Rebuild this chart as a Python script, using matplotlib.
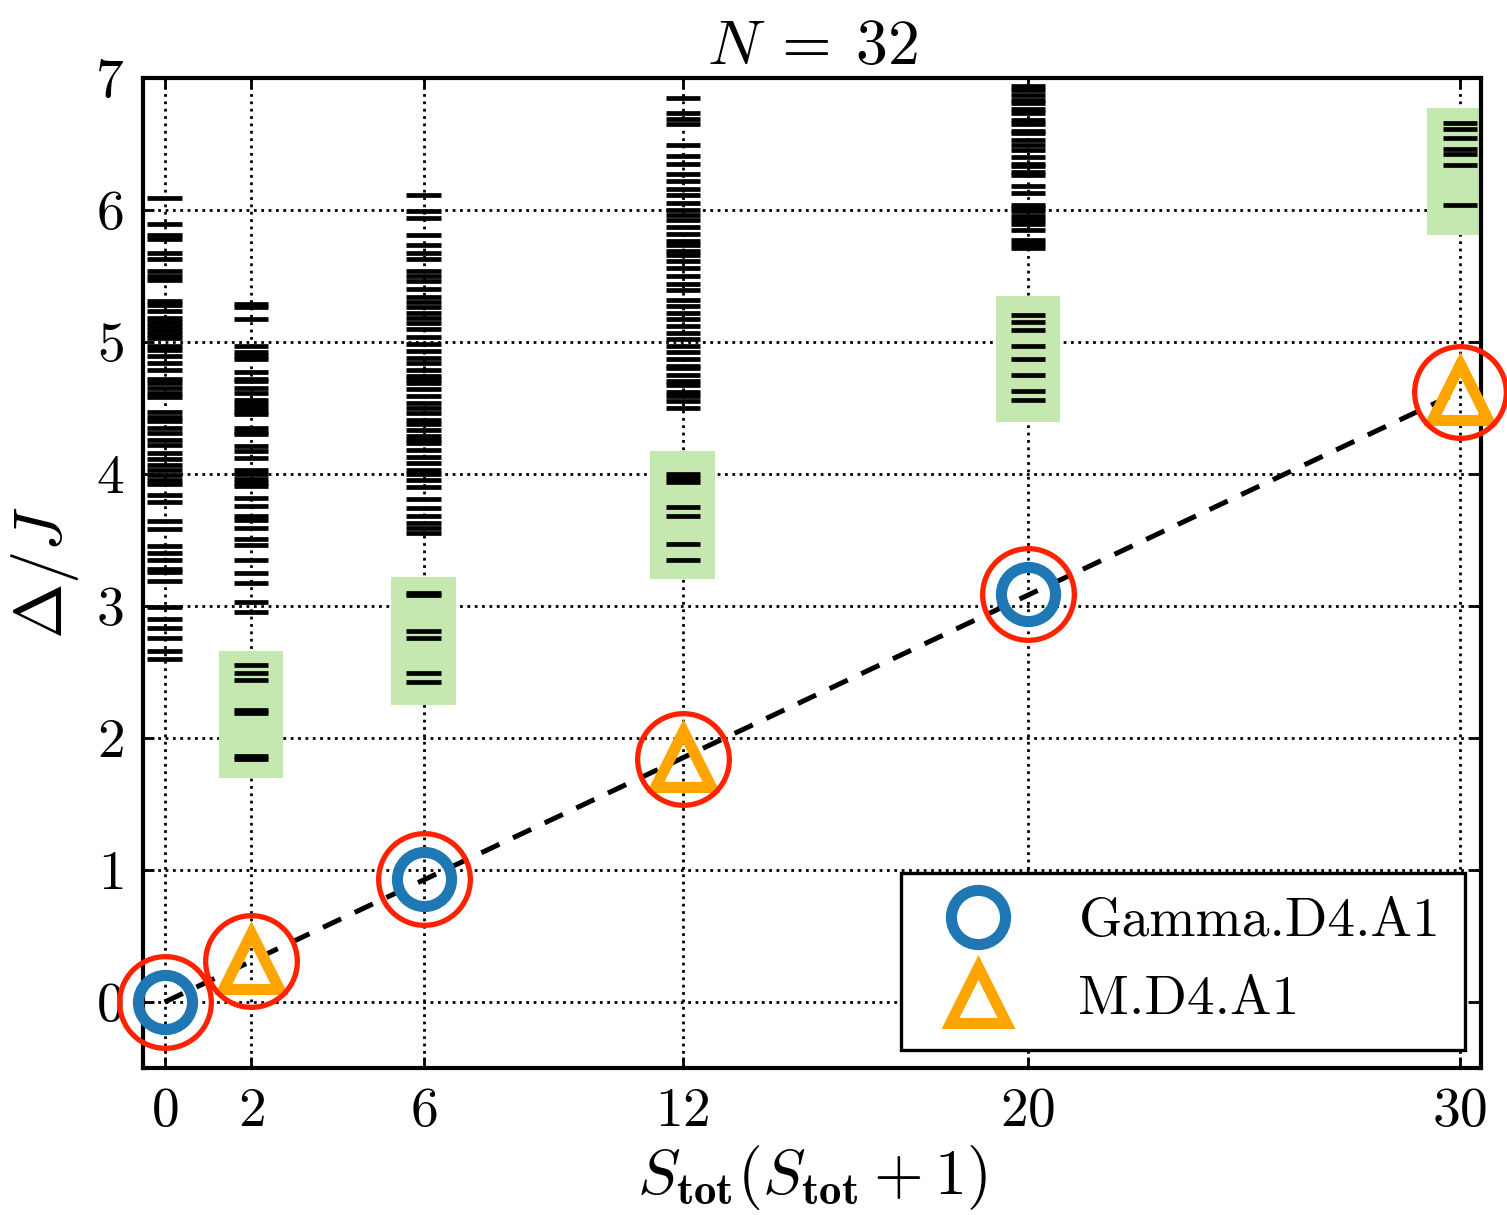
import matplotlib
matplotlib.use("Agg")
import matplotlib.pyplot as plt
import numpy as np

plt.rcParams["font.family"] = "serif"
plt.rcParams["font.serif"] = ["cmr10", "DejaVu Serif"]
plt.rcParams["mathtext.fontset"] = "cm"
plt.rcParams["axes.formatter.use_mathtext"] = True

# S_tot(S_tot+1) columns
s_x = [0, 2, 6, 12, 20, 30]

# black energy levels per column
lev_0 = [6.09, 5.89, 5.81, 5.78, 5.67, 5.63, 5.54, 5.50, 5.47, 5.31, 5.28, 5.23,
         5.18, 5.15, 5.12, 5.09, 5.06, 5.03, 4.97, 4.94, 4.89, 4.84, 4.79, 4.72,
         4.69, 4.65, 4.61, 4.58, 4.47, 4.43, 4.40, 4.35, 4.31, 4.26, 4.22, 4.16,
         4.11, 4.07, 4.03, 3.99, 3.95, 3.92, 3.84, 3.79, 3.64, 3.58, 3.45, 3.40,
         3.35, 3.28, 3.26, 3.19, 2.99, 2.90, 2.83, 2.76, 2.66, 2.60]
lev_2 = [5.29, 5.26, 5.17, 4.97, 4.92, 4.89, 4.87, 4.77, 4.72, 4.70, 4.65, 4.61,
         4.56, 4.53, 4.50, 4.47, 4.45, 4.35, 4.32, 4.30, 4.21, 4.17, 4.12, 4.03,
         4.00, 3.96, 3.93, 3.91, 3.82, 3.76, 3.68, 3.65, 3.59, 3.51, 3.46, 3.35,
         3.25, 3.17, 3.03, 2.95]
lev_6 = [6.11, 5.99, 5.94, 5.81, 5.73, 5.67, 5.63, 5.54, 5.50, 5.46, 5.40, 5.34,
         5.30, 5.26, 5.22, 5.18, 5.14, 5.10, 5.04, 4.98, 4.93, 4.88, 4.84, 4.79,
         4.74, 4.72, 4.69, 4.64, 4.59, 4.54, 4.50, 4.46, 4.41, 4.38, 4.33, 4.29,
         4.26, 4.23, 4.18, 4.13, 4.08, 4.03, 4.00, 3.95, 3.90, 3.81, 3.74, 3.68,
         3.63, 3.59, 3.55]
lev_12 = [6.85, 6.73, 6.69, 6.65, 6.49, 6.41, 6.35, 6.27, 6.22, 6.16, 6.11, 6.05,
          6.00, 5.96, 5.92, 5.87, 5.82, 5.76, 5.73, 5.69, 5.66, 5.61, 5.56, 5.50,
          5.44, 5.39, 5.32, 5.27, 5.22, 5.17, 5.12, 5.07, 5.02, 4.97, 4.92, 4.87,
          4.82, 4.80, 4.75, 4.70, 4.67, 4.62, 4.59, 4.55, 4.50]
lev_20 = [6.94, 6.91, 6.87, 6.83, 6.81, 6.76, 6.73, 6.68, 6.65, 6.60, 6.58, 6.53,
          6.49, 6.45, 6.40, 6.35, 6.33, 6.29, 6.26, 6.18, 6.13, 6.04, 6.01, 5.99,
          5.95, 5.92, 5.89, 5.85, 5.77, 5.74, 5.71]
lev_30 = []

# lowest levels inside the green boxes
grn_0 = []
grn_2 = [2.55, 2.49, 2.44, 2.21, 2.19, 1.86, 1.84]
grn_6 = [3.10, 3.08, 2.81, 2.76, 2.49, 2.42]
grn_12 = [4.00, 3.97, 3.94, 3.75, 3.68, 3.47, 3.35]
grn_20 = [5.20, 5.15, 5.09, 4.97, 4.87, 4.75, 4.63, 4.56]
grn_30 = [6.66, 6.61, 6.54, 6.46, 6.42, 6.34, 6.04]

# green box bounds per column (None for no box)
box_lo = [None, 1.70, 2.25, 3.20, 4.39, 5.81]
box_hi = [None, 2.66, 3.22, 4.17, 5.35, 6.77]

# symmetry sector ground states
gamma_x = [0, 6, 20]
gamma_y = [0.0, 0.93, 3.09]
m_x = [2, 12, 30]
m_y = [0.31, 1.84, 4.62]

black_levels = [lev_0, lev_2, lev_6, lev_12, lev_20, lev_30]
green_levels = [grn_0, grn_2, grn_6, grn_12, grn_20, grn_30]

fig = plt.figure(figsize=(7.535, 6.075), dpi=200)
ax = fig.add_axes([0.095, 0.121, 0.888, 0.815])

ax.grid(True, color="k", linestyle=":", linewidth=1.0, zorder=0)
ax.set_axisbelow(True)

hw = 0.4
for i, x in enumerate(s_x):
    if box_lo[i] is not None:
        ax.fill_between([x - 0.75, x + 0.75], box_lo[i], box_hi[i],
                        color="#c5e8b0", linewidth=0, zorder=1)
    lv = black_levels[i] + green_levels[i]
    if lv:
        ax.hlines(lv, x - hw, x + hw, colors="k", linewidth=1.7, zorder=2)

# linear fit through origin
all_x = np.array(gamma_x + m_x, dtype=float)
all_y = np.array(gamma_y + m_y)
slope = np.sum(all_x * all_y) / np.sum(all_x ** 2)
xs = np.array([0, 30])
ax.plot(xs, slope * xs, color="k", linewidth=1.8, dashes=(4, 3), zorder=3)

ax.plot(gamma_x, gamma_y, linestyle="none", marker="o", markersize=19.5,
        markerfacecolor="none", markeredgecolor="#1f77b4", markeredgewidth=4.0,
        label="Gamma.D4.A1", zorder=5, clip_on=False)
ax.plot(m_x, m_y, linestyle="none", marker="^", markersize=20,
        markerfacecolor="none", markeredgecolor="#ffa500", markeredgewidth=4.0,
        label="M.D4.A1", zorder=5, clip_on=False)
ax.plot(gamma_x + m_x, gamma_y + m_y, linestyle="none", marker="o",
        markersize=33, markerfacecolor="none", markeredgecolor="#ff2200",
        markeredgewidth=1.9, zorder=6, clip_on=False)

ax.set_xlim(-0.5, 30.5)
ax.set_ylim(-0.5, 7)
ax.set_xticks(s_x)
ax.set_yticks(range(0, 8))
ax.tick_params(direction="in", top=True, right=True, length=4, width=1,
               labelsize=20, pad=7)
for sp in ax.spines.values():
    sp.set_linewidth(1.5)

ax.set_title(r"$N\:=\:32$", fontsize=23, pad=5)
ax.set_xlabel(r"$S_{\mathbf{tot}}(S_{\mathbf{tot}}+1)$", fontsize=23, labelpad=2)
ax.set_ylabel(r"$\Delta/J$", fontsize=24, labelpad=5)

leg = ax.legend(loc="lower right", bbox_to_anchor=(0.988, 0.018), fontsize=20,
                fancybox=False, edgecolor="k", framealpha=1, numpoints=1,
                handlelength=1.9, handletextpad=0.85, borderpad=0.45,
                labelspacing=0.5, borderaxespad=0)
leg.get_frame().set_linewidth(1.2)

fig.savefig("out.png", dpi=200)
